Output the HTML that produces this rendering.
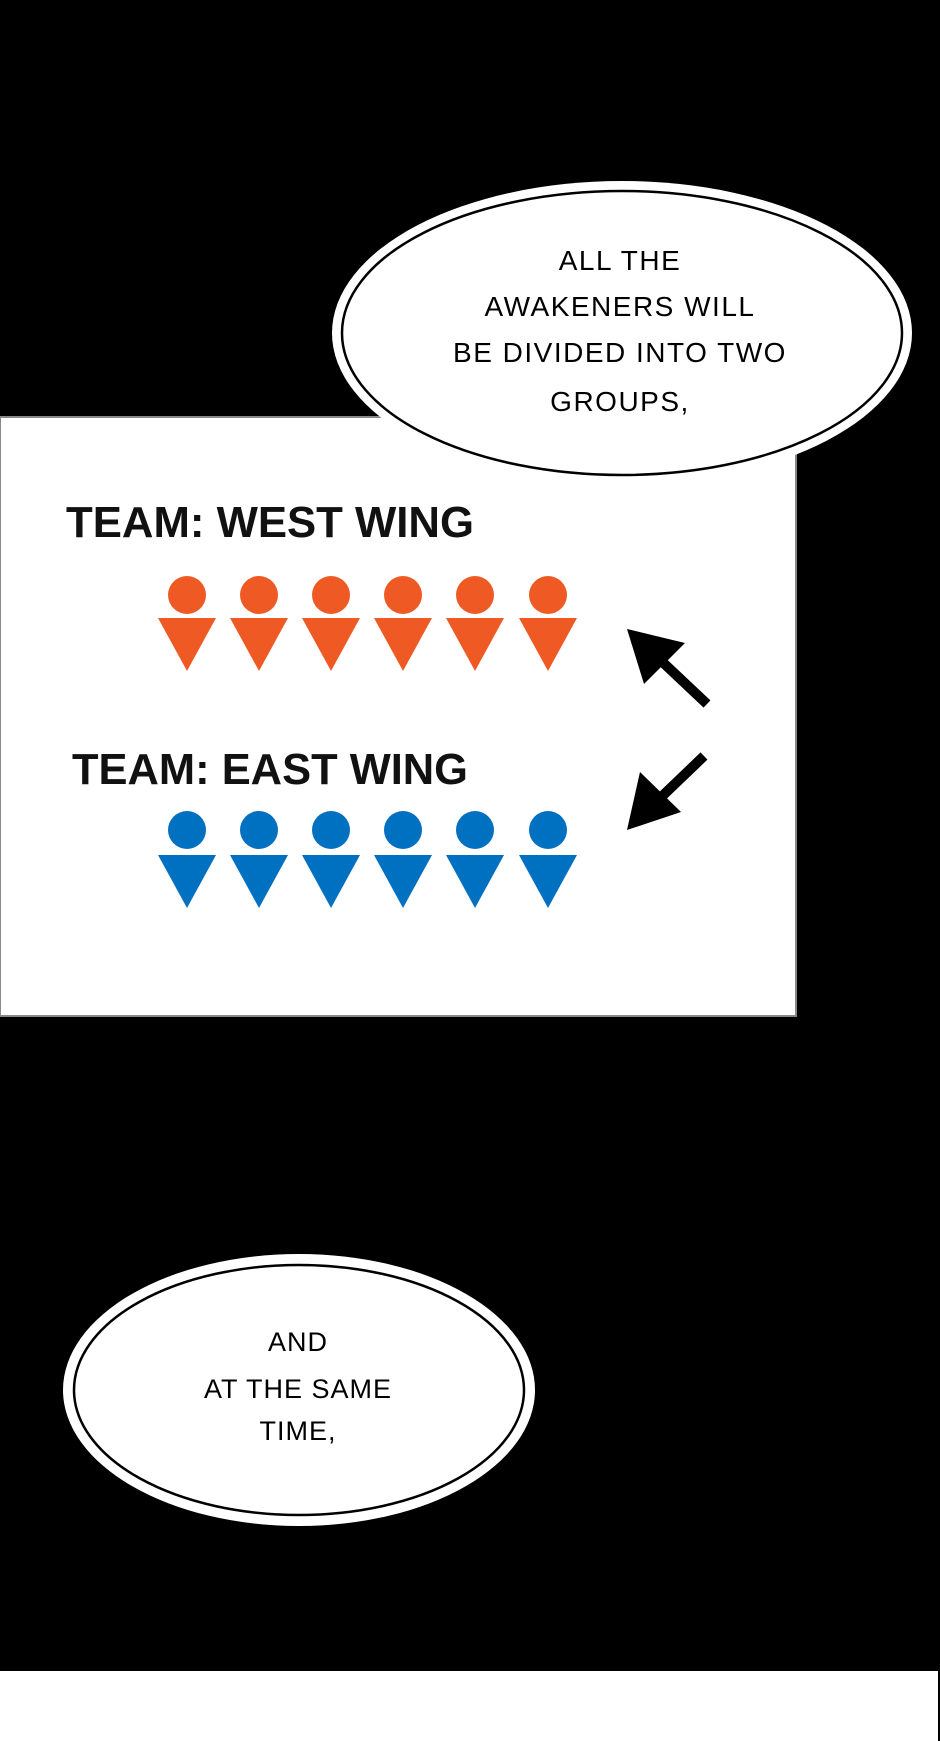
<!DOCTYPE html>
<html><head><meta charset="utf-8"><style>
html,body{margin:0;padding:0;background:#000;}
svg{display:block;}
</style></head><body>
<svg width="940" height="1741" viewBox="0 0 940 1741" xmlns="http://www.w3.org/2000/svg">
<rect x="0" y="0" width="940" height="1741" fill="#000"/>
<!-- panel -->
<rect x="0" y="417" width="796" height="599" fill="#fff" stroke="#888" stroke-width="2"/>
<!-- bubble 1 -->
<ellipse cx="622" cy="333" rx="290" ry="152" fill="#fff"/>
<ellipse cx="622" cy="333" rx="280" ry="142" fill="#fff" stroke="#000" stroke-width="2.5"/>
<g font-family="Liberation Sans, sans-serif" font-size="28" fill="#000" text-anchor="middle" letter-spacing="1.5">
<text x="620" y="270">ALL THE</text>
<text x="620" y="316">AWAKENERS WILL</text>
<text x="620" y="362">BE DIVIDED INTO TWO</text>
<text x="620" y="411">GROUPS,</text>
</g>
<!-- team labels -->
<g font-family="Liberation Sans, sans-serif" font-weight="bold" font-size="44" fill="#111">
<text x="66" y="537" textLength="408" lengthAdjust="spacingAndGlyphs">TEAM: WEST WING</text>
<text x="72" y="784" textLength="396" lengthAdjust="spacingAndGlyphs">TEAM: EAST WING</text>
</g>
<!-- orange figures -->
<g fill="#ef5a24">
<circle cx="187" cy="595" r="19"/><polygon points="158,618 216,618 187,671"/>
<circle cx="259" cy="595" r="19"/><polygon points="230,618 288,618 259,671"/>
<circle cx="331" cy="595" r="19"/><polygon points="302,618 360,618 331,671"/>
<circle cx="403" cy="595" r="19"/><polygon points="374,618 432,618 403,671"/>
<circle cx="475" cy="595" r="19"/><polygon points="446,618 504,618 475,671"/>
<circle cx="548" cy="595" r="19"/><polygon points="519,618 577,618 548,671"/>
</g>
<g fill="#0070c0">
<circle cx="187" cy="830" r="19"/><polygon points="158,855 216,855 187,908"/>
<circle cx="259" cy="830" r="19"/><polygon points="230,855 288,855 259,908"/>
<circle cx="331" cy="830" r="19"/><polygon points="302,855 360,855 331,908"/>
<circle cx="403" cy="830" r="19"/><polygon points="374,855 432,855 403,908"/>
<circle cx="475" cy="830" r="19"/><polygon points="446,855 504,855 475,908"/>
<circle cx="548" cy="830" r="19"/><polygon points="519,855 577,855 548,908"/>
</g>
<!-- arrows -->
<g stroke="#000" stroke-width="10" fill="none">
<line x1="707" y1="704" x2="655" y2="655"/>
<line x1="704" y1="756" x2="655" y2="803"/>
</g>
<polygon points="627,629 685,643 644,684" fill="#000"/>
<polygon points="627,830 640,772 681,812" fill="#000"/>
<!-- bubble 2 -->
<ellipse cx="299" cy="1390" rx="236" ry="136" fill="#fff"/>
<ellipse cx="299" cy="1390" rx="225" ry="125" fill="#fff" stroke="#000" stroke-width="2.5"/>
<g font-family="Liberation Sans, sans-serif" font-size="27" fill="#000" text-anchor="middle" letter-spacing="1">
<text x="298" y="1351">AND</text>
<text x="298" y="1398">AT THE SAME</text>
<text x="298" y="1440">TIME,</text>
</g>
<!-- bottom white band -->
<rect x="0" y="1671" width="938" height="70" fill="#fff"/>
</svg>
</body></html>
